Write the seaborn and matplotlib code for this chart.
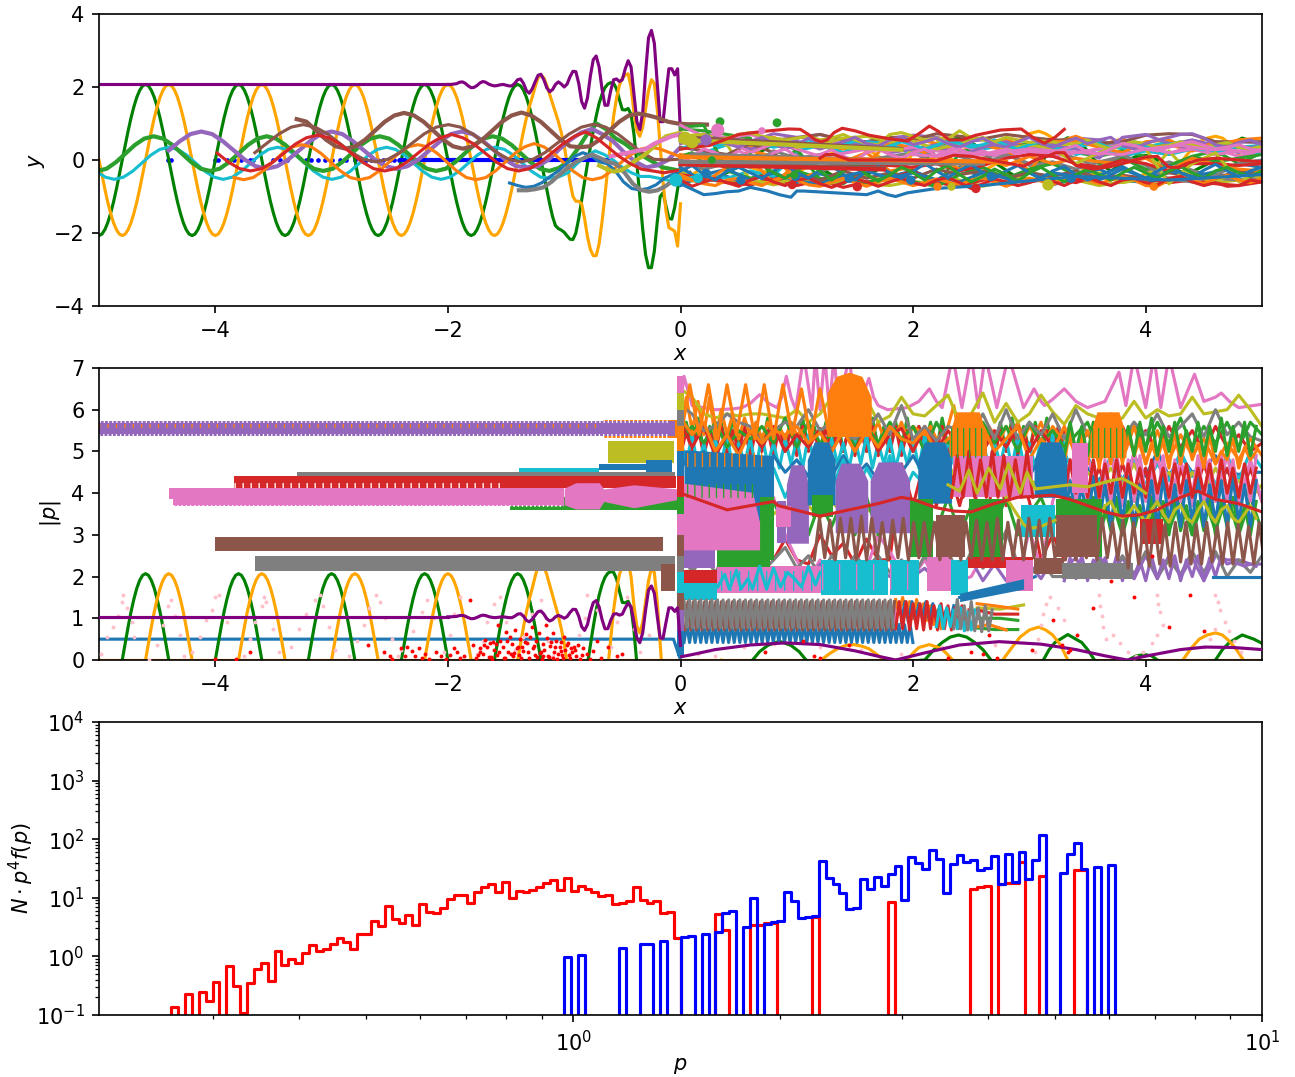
import numpy as np
import seaborn as sns
import matplotlib
matplotlib.use('Agg')
import matplotlib.pyplot as plt

# field components, sampled every 0.025 from x=-5 up to the shock
green_wave = [-2.07,-2.03,-1.91,-1.72,-1.46,-1.15,-.79,-.4,0,.4,.79,1.15,1.46,1.72,1.91,2.03,2.07,2.03,1.91,1.72,1.46,1.15,.79,.4,0,-.4,-.79,-1.15,-1.46,-1.72,-1.91,-2.03,
              -2.07,-2.03,-1.91,-1.72,-1.46,-1.15,-.79,-.4,0,.4,.79,1.15,1.46,1.72,1.91,2.03,2.07,2.03,1.91,1.72,1.46,1.15,.79,.4,0,-.4,-.79,-1.15,-1.46,-1.72,-1.91,-2.03,
              -2.07,-2.03,-1.91,-1.72,-1.46,-1.15,-.79,-.4,0,.4,.79,1.15,1.46,1.72,1.91,2.03,2.07,2.03,1.91,1.72,1.46,1.15,.79,.4,0,-.4,-.79,-1.15,-1.46,-1.72,-1.91,-2.03,
              -2.07,-2.03,-1.91,-1.72,-1.46,-1.15,-.79,-.4,0,.4,.79,1.15,1.46,1.72,1.91,2.03,2.07,2.03,1.91,1.72,1.46,1.15,.79,.4,0,-.4,-.79,-1.15,-1.46,-1.72,-1.91,-2.03,
              -2.07,-2.03,-1.91,-1.72,-1.46,-1.15,-.79,-.4,0,.4,.79,1.15,1.46,1.72,1.91,2.03,2.07,2.03,1.91,1.72,1.46,1.15,.79,.4,0,-.4,-.8,-1.2,-1.55,-1.8,-1.88,-1.92,
              -1.98,-2.08,-2.17,-2.18,-2.0,-1.6,-1.1,-.6,-.1,.35,.8,1.2,1.55,1.8,1.98,2.08,2.12,2.1,1.95,1.65,1.38,1.37,1.41,1.25,.7,-.1,-1.0,-1.9,-2.6,-2.95,-2.95,-2.5,
              -1.7,-1.0,-.9,-1.25,-1.6,-1.62,-1.3,-.8,-.2]
orange_wave = [0,-.4,-.79,-1.15,-1.46,-1.72,-1.91,-2.03,-2.07,-2.03,-1.91,-1.72,-1.46,-1.15,-.79,-.4,0,.4,.79,1.15,1.46,1.72,1.91,2.03,2.07,2.03,1.91,1.72,1.46,1.15,.79,.4,
               0,-.4,-.79,-1.15,-1.46,-1.72,-1.91,-2.03,-2.07,-2.03,-1.91,-1.72,-1.46,-1.15,-.79,-.4,0,.4,.79,1.15,1.46,1.72,1.91,2.03,2.07,2.03,1.91,1.72,1.46,1.15,.79,.4,
               0,-.4,-.79,-1.15,-1.46,-1.72,-1.91,-2.03,-2.07,-2.03,-1.91,-1.72,-1.46,-1.15,-.79,-.4,0,.4,.79,1.15,1.46,1.72,1.91,2.03,2.07,2.03,1.91,1.72,1.46,1.15,.79,.4,
               0,-.4,-.79,-1.15,-1.46,-1.72,-1.91,-2.03,-2.07,-2.03,-1.91,-1.72,-1.46,-1.15,-.79,-.4,0,.4,.79,1.15,1.46,1.72,1.91,2.03,2.07,2.03,1.91,1.72,1.46,1.15,.79,.4,
               0,-.4,-.79,-1.15,-1.46,-1.72,-1.91,-2.03,-2.07,-2.03,-1.91,-1.72,-1.46,-1.15,-.79,-.4,0,.4,.79,1.15,1.46,1.72,2.0,2.25,2.32,2.25,2.05,1.8,1.55,1.3,1.05,.75,
               .4,-.1,-.6,-1.0,-1.13,-1.13,-1.2,-1.6,-2.1,-2.45,-2.62,-2.62,-2.3,-1.7,-1.0,-.2,.5,1.2,1.7,2.05,2.25,2.33,2.36,2.0,1.3,.8,.65,.9,1.4,1.9,2.2,2.1,
               1.4,.4,-.6,-1.4,-1.85,-1.9,-1.95,-2.36,-1.2]
purple_flat_x = [-5,-2]
purple_flat_y = [2.07,2.07]
purple_tail = [2.07,2.07,2.08,2.09,2.13,2.14,2.1,2.03,1.98,1.99,2.04,2.11,2.15,2.13,2.08,2.05,2.03,2.04,2.06,2.07,2.05,2.03,2.03,2.1,2.2,2.22,2.1,1.9,1.83,1.95,2.14,2.32,
               2.35,2.2,1.98,1.87,1.93,2.07,2.14,2.08,2.0,2.08,2.28,2.43,2.42,2.1,1.6,1.42,1.7,2.3,2.75,2.85,2.55,1.95,1.5,1.5,1.9,2.2,2.22,2.15,2.2,2.5,
               2.72,2.55,1.8,1.05,.83,1.3,2.4,3.35,3.55,3.2,2.1,1.05,1.05,1.8,2.5,2.5,2.33,2.5,.7]
purple_mid_x = [0.01,.1,.3,.6,.9,1.2,1.5,1.7,1.85,2.1,2.4,2.74,3.1,3.4,3.65,3.84,4.05,4.3,4.51,4.75,5]
purple_mid_y = [.08,.13,.25,.36,.41,.37,.22,.09,0,.17,.36,.44,.38,.25,.1,0,.12,.25,.31,.3,.25]
green_right_x = [0,.3,.62,.68,.75,.85,.95,1.02,1.08,1.35,1.6,1.85,2.1,2.18,2.25,2.32,2.39,2.46,2.53,2.6,2.67,2.9,3.12,3.17,3.22,3.33,3.45,3.5,3.56,3.7,3.85,3.92,3.99,4.05,4.1,4.35,4.6,4.66,4.72,4.83,4.93,5]
green_right_y = [-.6,-.5,0,.2,.35,.45,.35,.2,0,-.5,-.4,-.05,0,.25,.42,.55,.6,.55,.42,.25,0,-.5,0,.25,.42,.61,.42,.25,0,-.3,0,.1,.13,.1,0,-.4,0,.25,.42,.6,.5,.4]
orange_right_x = [0,.2,.35,.6,.9,1.21,1.28,1.35,1.42,1.49,1.56,1.62,1.68,1.75,1.95,2.0,2.05,2.14,2.24,2.29,2.34,2.55,2.77,2.85,2.92,3.0,3.08,3.14,3.2,3.27,3.33,3.6,3.9,4.32,4.39,4.46,4.53,4.6,4.66,4.72,4.78,4.84,5]
orange_right_y = [-.6,-.2,0,-.2,-.5,0,.15,.27,.35,.37,.33,.27,.15,0,0,.17,.3,.37,.28,.15,0,-.4,0,.3,.55,.72,.79,.72,.6,.35,0,-.5,-.5,0,.28,.5,.6,.65,.6,.45,.25,0,-.3]

# thermal wave modes in the upper panel
cyan_wave = [-.31,-.47,-.53,-.47,-.31,-.09,.13,.29,.35,.29,.13,-.09,-.31,-.47,-.53,-.47,-.31,-.09,.13,.29,.35,.29,.13,-.09,
             -.31,-.47,-.53,-.47,-.31,-.09,.13,.29,.35,.29,.13,-.09,-.31,-.47,-.53,-.47,-.31,-.09,.13,.29,.35,.29,.13,-.09,
             -.31,-.47,-.5,-.46,-.35,-.1,.1,.25,.15,0,-.2,-.35,-.45,-.45,-.5,-.55,-.65,-.6]
tgreen_wave = [-.3,-.24,-.06,.175,.41,.585,.65,.585,.41,.175,-.06,-.24,-.3,-.24,-.06,.175,.41,.585,.65,.585,.41,.175,-.06,-.24,
               -.3,-.24,-.06,.175,.41,.585,.65,.585,.41,.175,-.06,-.24,-.3,-.24,-.06,.175,.41,.585,.65,.585,.41,.175,-.06,-.24,
               -.3,-.22,-.05,.3,.7,1.0,.85,.6,.45,.25,.1,-.05,-.2,-.25,-.3]
tpurple_wave = [.26,.51,.71,.78,.71,.51,.26,.01,-.17,-.24,-.17,.01,.26,.51,.71,.78,.71,.51,.26,.01,-.17,-.24,-.17,.01,
                .26,.51,.71,.78,.71,.51,.26,.01,-.17,-.2,-.17,.01,.3,.55,.75,.85,.7,.5,.2,-.05,-.2,-.15,0,.3]
tred_wave = [.19,-.055,-.235,-.3,-.235,-.055,.19,.435,.61,.68,.61,.435,.19,-.055,-.235,-.3,-.235,-.055,.19,.435,.61,.7,.61,.435,
             .19,-.055,-.235,-.3,-.235,-.055,.2,.45,.65,.77,.6,.35,.1,-.1,-.25,-.3,-.35,-.3,-.25]
torange_wave = [-.48,-.54,-.48,-.3,-.06,.18,.36,.42,.36,.18,-.06,-.3,-.48,-.54,-.48,-.3,-.06,.18,.36,.42,.36,.18,-.06,-.3,
                -.48,-.54,-.48,-.3,-.06,.18,.36,.45,.36,.18,-.06,-.3,-.48,-.54,-.48,-.3,-.06,.15,.3,.35,.3,.2,.1]
brown_wave = [.2,.46,.715,.9,.97,.9,.715,.46,.205,.02,-.05,.02,.205,.46,.715,.9,.97,.9,.715,.46,.205,.02,-.05,.02,
              .205,.46,.715,.9,.98,.9,.715,.46,.205,.02,0,.02]
brown2_wave = [1.12,1.05,.8,.555,.375,.31,.375,.555,.8,1.045,1.22,1.29,1.22,1.045,.8,.555,.375,.31,.375,.555,.8,1.045,1.22,1.3,
               1.22,1.045,.8,.555,.375,.35,.375,.555,.8,1.045,1.22,1.27,1.22,1.15,1.05,1.0,.98,.98,.97]
tblue_wave = [-.63,-.7,-.75,-.72,-.62,-.45,-.3,-.1,.1,.2,.12,-.05,-.1,-.3,-.6,-.78,-.82,-.78,-.68,-.5,-.4,-.3]
gray_wave = [-.83,-.83,-.8,-.75,-.6,-.4,-.22,-.05,.05,.15,.05,-.05,-.12,-.35,-.65,-.82,-.87,-.83,-.72,-.55,-.45,-.35]
olive_wave = [-.15,-.25,-.32,-.28,-.15,0,.12,.3,.5,.65,.7,.75]
pink_wave = [.1,.15,.2,.25,.3,.45,.55,.65,.7]
blue_dots = [-4.41,-4.38,-4.0,-3.98,-3.9,-3.84,-3.78,-3.7,-3.68,-3.5,-3.44,-3.38,-3.22,-3.18,-3.12,-3.06,-3.0,-2.93,-2.88,-2.8,-2.74,-2.7,-2.66,-2.6,-2.56,-2.5,-2.46,-2.42]
blue_run = [-2.4,-.62]

# long runs across the downstream band, y read every 0.2 from x=0
down_colors = ['C4','C8','C9','C0','C1','C5','C2','C7','C6','C3','C9','C1','C8','C2','C4','C5','C0','C7','C6','C1','C3','C8']
down_lines = [
 [.7,.6,.62,.5,.72,.62,.7,.52,.5,.6,.68,.62,.5,.55,.45,.3,.5,.6,.55,.35,.3,.42,.55,.4,.5,.48],
 [-.3,-.5,-.62,-.55,-.68,-.55,-.62,-.5,-.65,-.7,-.58,-.68,-.55,-.72,-.58,-.5,-.62,-.55,-.7,-.6,-.55,-.62,-.5,-.62,-.55,-.6],
 [.1,.2,.42,.5,.35,.48,.42,.2,.35,.4,.2,.35,.1,.3,.42,.45,.2,.35,.48,.3,.35,.5,.3,.2,.35,.4],
 [-.2,-.6,-.45,-.7,-.42,-.62,-.38,-.55,-.62,-.45,-.3,-.55,-.2,-.48,-.62,-.35,-.68,-.5,-.25,-.55,-.62,-.5,-.58,-.4,-.45,-.3],
 [.3,.42,.5,.35,.62,.4,.5,.3,.42,.5,.6,.45,.25,.38,.55,.35,.45,.65,.4,.58,.3,.42,.25,.5,.35,.3],
 [.55,.5,.6,.42,.55,.6,.7,.55,.5,.62,.55,.72,.65,.58,.7,.62,.55,.55,.45,.5,.68,.72,.7,.5,.5,.5],
 [.85,.8,.7,.6,-.6,-.3,-.5,-.65,-.2,.1,-.3,-.72,.2,.4,.3,.45,.3,.2,.1,.25,.1,-.35,.1,.25,-.1,.2],
 [0,-.25,-.1,.1,-.05,.2,-.3,-.15,-.2,.1,.2,-.1,-.3,.05,.2,-.15,-.05,-.25,-.05,.1,-.3,-.05,-.28,-.5,-.55,-.45],
 [.5,.72,.6,.7,.5,.35,.55,.45,.25,.35,.4,.1,.42,.2,.1,.32,.35,.2,.3,.45,.25,.15,.42,.3,.1,.22],
 [-.4,-.5,-.62,-.68,-.5,-.7,-.55,-.75,-.6,-.5,-.3,-.62,-.72,-.55,-.4,-.6,-.5,-.62,-.42,-.6,-.5,-.62,-.55,-.65,-.7,-.6],
 [-.55,-.4,-.5,-.3,-.45,.25,.4,.2,.5,.45,.15,.3,.5,.35,.45,.2,.45,.15,.3,.1,.25,.15,.3,.2,.4,.15],
 [.15,.05,-.1,.25,.1,-.55,-.3,.05,-.1,.5,.3,.1,-.1,.42,.25,-.3,.5,.52,.35,.2,.5,.55,.25,.4,.55,.6],
 [.6,.55,.42,-.55,-.65,-.5,-.7,-.55,-.45,-.6,.4,.6,-.65,-.4,-.7,-.3,-.55,-.5,-.35,-.62,-.5,.25,-.45,-.58,-.3,-.5],
 [.9,.95,-.3,-.5,-.35,.3,-.55,-.4,-.62,-.45,-.6,-.72,-.4,-.2,-.5,-.25,-.1,-.42,-.15,.05,-.25,-.15,.1,-.05,.05,.15],
 [.45,.6,.55,.3,.45,.52,.3,.5,.4,.2,.3,.42,.1,.35,.5,.28,.42,.3,.05,.62,.7,.45,.3,.4,.2,.45],
 [.35,.25,.15,.45,.2,-.4,-.55,-.3,-.5,-.35,-.5,-.25,-.4,-.3,-.5,-.35,-.45,-.3,-.5,-.42,-.5,-.35,-.45,-.5,-.3,-.4],
 [-.7,-.4,-.25,-.55,-.35,-.58,-.65,-.45,-.3,-.5,-.35,-.55,-.6,-.35,-.5,-.6,-.35,-.45,-.55,-.25,-.5,-.3,-.45,-.32,-.1,-.2],
 [.05,.1,-.1,-.2,.25,.05,.15,-.2,0,.1,-.1,.3,.1,-.1,.15,-.1,.25,.05,-.2,.15,-.15,-.52,-.6,-.42,-.1,.0],
 [.95,.65,.55,.2,.45,.3,.1,.18,.3,.25,.35,.25,.18,.15,.3,.2,.1,.2,.3,.42,.35,.2,.3,.15,.25,.35],
 [-.5,-.62,-.2,.05,-.65,-.1,-.2,-.05,.2,-.3,-.2,.1,-.25,.05,-.15,.1,-.1,.05,-.05,-.1,.05,-.3,.05,-.12,-.25,-.3],
 [-.1,-.05,-.2,-.15,-.15,-.25,-.05,-.1,-.15,-.15,-.2,-.1,-.3,-.15,.05,.15,.1,-.1,-.2,0,-.1,-.3,-.1,-.1,-.15,-.1],
 [.65,.7,.5,.45,.55,.35,.42,.6,.65,.5,.52,.3,.45,.62,.3,.42,.3,-.1,.2,.45,.3,-.65,-.1,.2,-.6,-.3],
]
# finer wiggles, y read every 0.1 from x=0
wiggle_colors = ['C9','C8','C1','C4','C6','C3','C0','C2']
wiggle_lines = [
 [.3,.42,.5,.4,.48,.55,.45,.52,.42,.35,.45,.55,.48,.35,.42,.52,.45,.3,.38,.5,.42,.3,.4,.52,.45,.35,.42,.55,.4,.3,.42,.5,.35,.28,.4,.52,.45,.32,.4,.5,.38,.3,.42,.5,.35,.28,.4,.48,.35,.3,.42],
 [.5,.68,.62,.55,.6,.7,.75,.65,.6,.55,.6,.65,.55,.6,.7,.55,.45,.42,.7,.75,.65,.55,.6,.58,.8,.6,.55,.5,.62,.55,.48,.52,.5,.42,.45,.55,.4,.3,.42,.5,.45,.35,.4,.5,.42,.35,.42,.48,.35,.3,.38],
 [-.4,-.55,-.65,-.7,-.55,-.5,-.62,-.7,-.55,-.45,-.55,-.68,-.72,-.6,-.5,-.62,-.72,-.6,-.5,-.6,-.7,-.62,-.52,-.6,-.68,-.55,-.5,-.6,-.72,-.6,-.5,-.58,-.68,-.52,-.45,-.55,-.65,-.55,-.45,-.55,-.7,-.72,-.55,-.45,-.55,-.65,-.5,-.42,-.55,-.62,-.5],
 [.6,.3,.5,.62,.45,.35,.5,.62,.45,.3,.42,.6,.48,.32,.5,.62,.45,.38,.55,.62,.42,.5,.6,.45,.35,.5,.6,.42,.35,.5,.62,.45,.35,.48,.6,.45,.55,.62,.4,.3,.45,.55,.62,.7,.72,.6,.42,.35,.48,.55,.42],
 [-.1,.1,.3,.2,.05,.25,.1,-.05,.2,.3,.1,-.05,.15,.28,.1,-.02,.2,.3,.15,.05,.2,.3,.12,.25,.3,.15,.25,.12,.3,.18,.25,.22,.2,.3,.4,.22,.15,.3,.45,.4,.3,.25,.35,.45,.5,.4,.3,.35,.42,.3,.25],
 [-.55,-.72,-.6,-.5,-.62,-.72,-.55,-.45,-.6,-.7,-.55,-.5,-.65,-.75,-.62,-.5,-.6,-.72,-.6,-.5,-.62,-.7,-.55,-.48,-.62,-.78,-.65,-.52,-.6,-.7,-.62,-.5,-.58,-.7,-.55,-.48,-.6,-.7,-.55,-.5,-.62,-.68,-.5,-.45,-.6,-.7,-.62,-.72,-.7,-.55,-.6],
 [-.3,-.15,-.4,-.55,-.3,-.2,-.35,-.5,-.3,-.12,-.35,-.5,-.28,-.15,-.4,-.55,-.3,-.18,-.35,-.5,-.32,-.1,-.3,-.48,-.28,-.12,-.35,-.5,-.3,-.15,-.35,-.5,-.3,-.18,-.4,-.55,-.42,-.3,-.18,-.35,-.5,-.3,-.15,-.35,-.48,-.28,-.12,-.3,-.45,-.3,-.2],
 [.1,.2,-.1,.1,-.2,-.1,.15,-.1,-.35,-.5,-.3,-.1,-.3,-.55,-.3,-.1,-.4,-.58,-.4,-.2,-.35,-.55,-.3,-.15,-.4,-.6,-.45,-.25,-.4,-.58,-.35,-.2,-.4,-.6,-.4,-.25,-.4,-.55,-.35,-.2,-.35,-.5,-.3,-.18,-.35,-.5,-.3,-.2,-.35,-.45,-.3],
]
straight_x = [[0,1.9],[0,1.9],[0,2.2],[0,1.75],[0,1.75],[0.1,1.7],[0,2.6],[0,2.8]]
straight_y = [[.62,.3],[.55,.28],[.1,-.02],[-.1,-.22],[-.12,-.26],[.15,.0],[-.05,-.1],[.08,-.05]]
straight_colors = ['C5','C8','C1','C5','C3','C7','C7','C1']
red_top_x = [.0,.25,.5,.7,.83,.93,1.03,1.1,1.16,1.21,1.26,1.32,1.39,1.5,1.62,1.8,1.95,2.05,2.14,2.22,2.31,2.42,2.54,2.75,2.93,3.03,3.13,3.22,3.3]
red_top_y = [.3,.4,.7,.78,.82,.85,.84,.7,.55,.5,.55,.75,.87,.8,.68,.58,.52,.72,.93,.78,.55,.55,.68,.82,.85,.62,.46,.62,.84]
red_low_x = [1.2,1.25,1.32,1.45,1.9,2.2,2.35,2.5,2.75,2.95,3.05,3.15,3.23,3.3,3.35,3.4,3.55,3.7,3.85,4.0,4.1,4.2,4.28,4.35,4.45,4.6,4.8,5]
red_low_y = [.05,.15,.15,.0,.0,-.02,.13,.1,-.05,-.17,0,.1,.2,.2,.0,-.15,-.25,-.18,-.05,.08,.1,-.2,-.2,-.1,0,.05,0,-.05]
blue_low_x = [.0,.1,.2,.3,.4,.5,.6,.75,.85,.95,1.0,1.06,1.6,1.7,1.78,1.85,1.95,2.2,2.6,2.9,3.4,4.2,5]
blue_low_y = [-.65,-.8,-.95,-.92,-.87,-.85,-.75,-.85,-.95,-1.02,-.85,-.85,-.95,-.85,-.95,-1.0,-.9,-.78,-.7,-.6,-.45,-.55,-.4]
pink_low_x = [2.0,2.2,2.4,2.7,2.85,3.0,3.35,3.8,4.0,4.3,4.55,4.7,4.85,5]
pink_low_y = [.15,.1,.2,.15,.25,.3,.22,.15,.3,.4,.28,.3,.2,.25]
# round clumps where a particle gyrates in place
clump_x = [.34,.83,.04,.22,.32,.7,-.04,.22,.52,.99,1.45,1.98,2.67,3.36,.27,.98,1.52,2.54,.96,2.33,3.16,2.21,4.07,.1,.15]
clump_y = [1.05,1.02,.6,.55,.82,.8,-.55,-.37,-.55,-.45,-.5,-.55,-.45,-.5,0,-.41,-.73,-.78,-.68,-.73,-.68,-.73,-.73,.5,-.5]
clump_s = [18,18,40,30,40,12,40,22,20,20,20,20,20,20,14,14,20,20,18,16,30,16,16,40,22]
clump_colors = ['C2','C2','C8','C4','C6','C6','C9','C0','C0','C0','C0','C0','C0','C0','C2','C2','C3','C3','C3','C8','C8','C1','C1','C8','C9']

# |p| tracks left of the shock, solid because of gyration
band_colors = ['C1','C4','C8','C0','C0','C9','C7','C3','C2','C6','C6','C6','C5','C7','C5']
band_x = [[-.67,-.03],[-5,-.05],[-.62,-.06],[-.7,-.3],[-.3,-.07],[-1.39,-.7],[-3.3,-.05],[-3.84,-.04],[-1.47,0],[-4.4,-4.36],[-4.36,-1.0],[-1.0,-.9,-.7,-.66,-.4,-.02],[-4.0,-.15],[-3.66,-.05],[-.17,-.05]]
band_low = [[5.32,5.32],[5.38,5.38],[4.72,4.72],[4.55,4.55],[4.4,4.4],[4.4,4.4],[4.12,4.12],[4.12,4.12],[3.59,3.59],[3.85,3.85],[3.7,3.7],[3.72,3.62,3.62,3.8,3.65,3.85],[2.61,2.61],[2.14,2.14],[1.65,1.65]]
band_high = [[5.76,5.76],[5.72,5.72],[5.26,5.26],[4.7,4.7],[4.8,4.8],[4.6,4.6],[4.5,4.5],[4.42,4.42],[3.91,3.91],[4.12,4.12],[4.12,4.12],[4.12,4.25,4.25,4.1,4.2,4.1],[2.95,2.95],[2.49,2.49],[2.3,2.3]]

# thin gaps left in the solid regions by the gyration: x range, y, colour, height and spacing in pixels
slit_x = [[-5,-.1],[-5,-.1],[-5,-.7],[-3.84,-1.5],[.06,.72],[.06,.66],[2.33,2.62],[3.54,3.82],[-4.4,-1.0],[.35,1.2],[1.22,2.05]]
slit_y = [5.72,5.38,5.6,4.19,4.8,4.05,5.2,5.2,3.7,1.9,2.0]
slit_colors = ['white','white','C1','white','C1','C2','C2','C2','white','C9','C6']
slit_height = [3,4,4,5,14,14,30,30,2,20,26]
slit_space = [4.2,4.2,8.4,8,7.4,7.2,6,6,4.2,9,17]

# solid blocks right of the shock
block_colors = ['C4','C3','C9','C6','C2','C0','C2','C6','C4','C4','C0','C2','C4','C4','C1','C1','C1','C6','C0','C0','C2','C2','C2','C5','C5','C9','C3','C3','C9','C9','C9','C6','C6','C5','C7','C0','C6','C6']
block_x = [[.0,.3],[.02,.31],[.02,.31],[.31,1.21],[.31,.77],[.03,.8],[.68,.8],[.0,.62,.68],[.83,.91],[.91,.95,1.06,1.1],[1.09,1.15,1.27,1.33],[1.13,1.31],[1.33,1.38,1.54,1.61],[1.63,1.7,1.9,1.97],[1.26,1.34,1.45,1.56,1.64],[2.31,2.37,2.57,2.63],[3.52,3.58,3.77,3.83],[3.37,3.5],[2.04,2.1,2.27,2.33],[3.04,3.1,3.26,3.32],[1.97,2.17],[2.48,2.77],[3.23,3.62],[2.2,2.45],[3.23,3.58],[2.93,3.22],[3.95,4.15],[2.47,3.03],[1.21,1.78],[1.8,2.05],[2.33,2.47],[2.12,2.33],[2.8,3.03],[3.04,3.3],[3.28,3.89],[2.4,2.95],[2.34,3.03],[.82,.95]]
block_low = [[2.2,2.2],[1.8,1.8],[1.44,1.44],[1.6,1.6],[2.23,2.23],[3.3,3.3],[2.4,2.4],[2.64,2.64,2.64],[2.8,2.8],[2.8,2.8,2.8,2.8],[3.72,3.72,3.72,3.72],[3.43,3.43],[3.05,3.05,3.05,3.05],[3.05,3.05,3.05,3.05],[5.36,5.36,5.36,5.36,5.36],[4.87,4.87,4.87,4.87],[4.85,4.85,4.85,4.85],[4.0,4.0],[3.76,3.76,3.76,3.76],[3.9,3.9,3.9,3.9],[2.47,2.47],[2.47,2.47],[2.47,2.47],[2.47,2.47],[2.47,2.47],[2.95,2.95],[2.77,2.77],[2.2,2.2],[1.56,1.56],[1.56,1.56],[1.56,1.56],[1.65,1.65],[1.65,1.65],[2.05,2.05],[1.93,1.93],[1.4,1.7],[3.9,3.9],[3.2,3.2]]
block_high = [[3.0,3.0],[2.16,2.16],[1.85,1.85],[2.25,2.25],[2.64,2.64],[5.04,4.9],[3.9,3.9],[4.25,4.02,3.3],[3.8,3.8],[4.2,4.68,4.68,4.2],[4.8,5.23,5.23,4.8],[3.95,3.95],[4.3,4.72,4.72,4.3],[4.3,4.75,4.75,4.3],[6.4,6.8,6.9,6.8,6.3],[5.4,5.95,5.95,5.4],[5.4,5.95,5.95,5.4],[5.2,5.2],[4.8,5.23,5.23,4.8],[4.8,5.23,5.23,4.8],[3.85,3.85],[3.85,3.85],[3.85,3.85],[3.48,3.48],[3.48,3.48],[3.72,3.72],[3.37,3.37],[2.47,2.47],[2.4,2.4],[2.4,2.4],[2.4,2.4],[2.47,2.47],[2.4,2.4],[2.45,2.45],[2.33,2.33],[1.6,1.95],[4.9,4.9],[3.7,3.7]]
stack_colors = ['C6','C8','C7','C1','C0','C3','C2','C6','C5','C7','C9','C5','C4','C0']
stack_low = [6.0,5.6,5.2,4.9,4.4,3.9,3.5,3.0,2.5,2.1,1.6,1.1,.7,.1]
stack_high = [6.8,6.4,6.0,5.6,5.0,4.4,3.9,3.5,3.0,2.5,2.1,1.6,1.2,.7]
stack_x = [-.03,.03]

# oscillating |p| lines right of the shock
pink_top_x = [.0,.03,.1,.3,.45,.53,.6,.68,.76,.83,.87,.91,.95,.99,1.06,1.13,1.16,1.2,1.24,1.28,1.32,1.36,1.45,1.5,1.56,1.62,1.66,1.7,1.78,1.95,2.05,2.14,2.2,2.25,2.34,2.42,2.5,2.56,2.62,2.72,2.82,2.95,3.04,3.1,3.13,3.2,3.3,3.4,3.5,3.65,3.77,3.83,3.9,4.0,4.07,4.13,4.2,4.3,4.42,4.5,4.6,4.65,4.72,4.8,5]
pink_top_y = [6.1,6.8,6.1,6.0,6.02,6.05,6.15,6.36,6.15,6.05,6.3,6.8,6.3,6.0,7.3,6.0,7.3,6.0,7.3,6.0,7.3,6.0,7.3,6.05,6.3,6.75,6.3,6.1,6.0,6.05,6.2,6.5,6.2,6.05,7.3,6.05,7.3,6.05,7.3,6.05,7.3,6.05,6.5,6.2,6.1,6.25,6.5,6.2,6.05,6.2,6.9,6.1,7.3,6.05,7.3,6.05,7.3,6.05,6.85,6.2,6.3,6.4,6.2,6.05,6.13]
olive_top_y = [6.5,6.3,5.9,5.8,5.9,5.85,5.9,5.9,5.85,5.8,6.0,5.7,5.9,6.3,5.6,5.9,6.25,5.7,5.85,6.3,5.9,5.85,6.1,6.35,5.7,5.9,6.4,5.7,6.15,5.7,5.9,6.35,5.95,5.65,6.1,5.9,5.8,5.75,5.8,6.2,5.8,6.0,5.85,5.9,6.3,5.9,5.95,6.0,6.35,6.0,5.6]
gray_top_y = [6.1,5.9,5.5,5.6,5.9,5.7,5.6,5.2,5.5,5.7,5.6,6.0,5.5,5.7,5.4,5.3,5.5,5.9,5.4,6.1,5.3,5.6,5.25,5.6,5.5,5.4,5.9,5.3,6.0,5.3,5.7,5.4,5.9,5.3,6.0,5.4,5.2,5.9,5.3,5.7,5.4,5.9,5.35,5.6,5.9,5.35,6.0,5.4,5.7,5.35,5.25]
green_row_y = [5.3,5.6,5.2,5.7,5.1,5.5,5.3,5.6,5.2,5.8,5.1,5.7,5.2,5.4,5.7,5.1,5.6,5.2,5.7,5.3,5.6,5.0,5.7,5.2,5.6,5.1,5.7,5.2,5.6,5.0,5.7,5.2,5.5,5.1,5.4,5.7,5.0,5.6,5.2,5.7,5.1,5.7,5.2,5.8,5.1,5.6,5.2,5.7,5.1,5.7,5.4]
red_row_y = [5.7,5.1,5.6,4.9,5.4,5.0,5.5,5.1,5.6,5.0,5.4,5.1,5.55,5.0,5.5,5.0,5.6,5.0,5.4,5.55,5.0,5.6,5.0,5.5,5.1,5.55,5.0,5.5,5.1,5.6,5.0,5.5,5.1,5.5,5.0,5.45,5.0,5.4,5.6,5.0,5.5,5.0,5.6,5.1,5.5,5.0,5.6,5.1,5.4,5.0,5.2]
orange_row_y = [5.8,5.4,5.7,5.0,5.4,4.9,5.5,5.2,5.5,5.4,5.6,5.2,5.45,5.0,5.5,5.0,5.5,5.1,5.6,5.3,5.2,5.5,5.0,5.3,5.5,5.1,5.6,5.0,5.3,5.6,4.8,5.3,5.0,5.6,4.9,5.5,4.7,5.5,4.8,5.6,4.7,5.5,4.8,5.4,4.9,5.3,4.7,5.2,4.8,5.3,4.9]
blue_row_y = [4.9,4.4,5.0,4.5,4.9,4.4,4.8,4.5,4.9,4.5,4.8,4.4,4.7,4.4,4.9,4.4,4.7,4.3,4.8,4.5,4.9,4.4,4.8,4.5,4.4,4.8,4.3,4.7,4.5,4.9,4.4,4.9,4.5,4.7,4.5,4.6,4.3,4.8,4.3,4.9,4.4,5.0,4.4,4.9,4.5,4.6,4.9,4.5,4.45,4.5,4.5]
cyan_row_y = [4.2,3.9,4.6,4.1,4.9,4.2,4.7,4.1,4.6,3.9,4.5,4.0,4.7,4.1,4.8,4.0,4.6,4.1,4.9,3.9,4.5,4.2,4.6,4.0,4.4,4.0,4.8,4.2,4.7,4.0,4.6,4.9,4.3,5.0,4.3,4.9,4.2,4.9,4.3,4.8,4.2,4.7,4.3,5.0,4.4,4.8,4.2,4.9,4.3,5.0,4.6]
olive_row_y = [3.8,3.4,3.6,3.2,3.4,3.9,3.5,3.9,3.5,3.7,3.3,3.7,3.4,3.8,3.5,3.4,3.6,3.5,3.9,3.3,3.2,4.5,4.3,4.7,4.2,4.8,4.3,4.4,4.7,4.3,4.3,4.2,4.7,4.2,4.15,4.5,4.2,4.6,4.2,4.7,4.1,4.2,4.5,4.0,4.5,4.05,4.6,4.1,4.3,3.9,4.2]
pink_row_y = [4.2,3.0,4.2,3.0,4.1,2.9,4.0,3.2,3.9,3.0,2.4,1.9,2.4,1.9,2.3,1.9,2.2,3.0,2.6,2.1,2.0,2.4,1.9,2.4,1.9,2.0,2.5,3.1,2.3,2.0,3.1,2.2,3.8,4.8,3.7,4.9,3.8,4.9,3.7,5.0,3.8,4.9,3.7,4.8,3.7,5.0,3.8,4.9,3.7,4.8,3.8]
red_row2_y = [3.0,2.6,3.2,2.7,3.3,2.6,2.5,2.9,2.4,2.9,2.4,2.3,3.0,2.5,2.8,2.3,2.9,2.4,2.4,4.7,3.7,4.8,3.7,4.7,3.7,4.8,2.5,4.7,3.7,4.7,3.8,2.4,3.0,2.4,3.0,3.9,4.6,3.8,4.7,3.9,4.6,2.9,3.2,4.6,3.8,4.7,3.9,4.6,3.8,4.6,3.8]
green_low_y = [3.9,3.1,3.8,3.0,3.9,3.1,3.7,3.0,3.8,3.2,4.0,3.0,3.8,3.2,3.9,3.0,3.9,3.0,3.2,3.9,3.0,3.7,3.1,3.9,3.0,3.7,3.0,3.2,3.9,3.0,3.5,3.9,3.2,3.9,3.0,3.9,3.0,3.9,3.0,4.0,3.0,3.8,3.1,3.9,3.0,3.9,3.1,4.0,3.0,3.9,3.1]
gray_low_y = [2.6,2.1,2.5,2.1,2.6,2.0,2.5,2.1,2.4,2.7,2.2,2.5,2.0,2.5,2.1,2.5,2.2,2.5,2.1,2.4,2.0,2.5,2.1,2.6,2.0,2.6,2.2,2.5,3.1,2.3,2.0,2.4,2.0,2.0,2.3,2.0,2.4,2.0,2.5,2.05,2.6,2.0,2.4,2.05,2.6,2.1,2.6,2.0,2.4,2.1,2.5]
purple_low_y = [2.4,2.2,1.9,2.1,1.8,1.7,2.0,1.8,2.0,2.1,2.2,1.9,2.3,2.0,1.9,2.3,2.0,2.2,2.0,2.3,2.0,2.2,1.9,2.2,2.0,2.4,1.9,2.3,1.9,2.4,2.3,1.95,2.4,2.2,2.45,1.95,2.5,2.0,2.45,1.95,2.5,1.95,2.5,2.0,2.45,1.9,2.5,2.4,2.4,2.3,2.3]
# denser spikes, y read every 0.05 from x=0 (fine_upper) and from x=3.3 (fine_right)
fine_upper_colors = ['C2','C3','C9','C1']
fine_upper = [
 [5.0,5.7,5.1,5.8,5.0,5.6,5.1,5.7,5.0,5.8,5.1,5.6,5.0,5.7,5.1,5.8,5.0,5.6,5.1,5.7,5.0,5.8,5.1,5.6,5.0,5.7,5.1,5.8,5.0,5.6,5.1,5.7,5.0,5.8,5.1,5.6,5.0,5.7,5.1,5.8,5.0,5.6,5.1,5.7,5.0,5.8,5.1,5.6,5.0,5.7,5.1,5.8,5.0,5.6,5.1,5.7,5.0,5.8,5.1,5.6,5.0,5.7,5.1,5.8,5.0,5.6,5.1],
 [4.9,5.5,5.0,5.6,4.9,5.5,5.0,5.6,4.9,5.5,5.0,5.6,4.9,5.5,5.0,5.5,4.9,5.6,5.0,5.5,4.9,5.6,5.0,5.5,4.9,5.6,5.0,5.5,5.0,5.6,4.9,5.5,5.0,5.6,4.9,5.5,5.0,5.6,4.9,5.5,5.0,5.6,4.9,5.5,5.0,5.6,4.9,5.5,5.0,5.6,4.9,5.5,5.0,5.6,4.9,5.5,5.0,5.6,4.9,5.5,5.0,5.6,4.9,5.5,5.0,5.6,4.9],
 [5.3,4.7,5.4,4.6,5.2,4.6,5.3,4.7,5.4,4.6,5.2,4.7,5.3,4.6,5.4,4.7,5.2,4.6,5.3,4.7,5.3,4.6,5.4,4.7,5.2,4.6,5.3,4.7,5.2,4.6,5.3,4.7,5.4,4.6,5.2,4.7,5.3,4.6,5.2,4.7,5.3,4.6,5.4,4.7,5.2,4.6,5.3,4.7,5.4,4.6,5.2,4.7,5.3,4.6,5.2,4.7,5.3,4.6,5.4,4.7,5.2,4.6,5.3,4.7,5.4,4.6,5.2],
 [5.4,6.3,5.5,6.2,5.4,6.3,5.3,6.0,5.4,5.9,5.3,5.8,5.4,5.7,5.3,5.7,5.4,5.6,5.3,5.7,5.4,5.5,5.6,5.4,5.5,5.6,5.4,5.5,5.7,5.4,5.6,5.3,5.6,5.4,5.7,5.3,5.6,5.4,5.7,5.3,5.6,5.5,5.4,5.6,5.3,5.4,5.6,6.1,5.3,5.6,5.4,5.7,5.3,5.6,5.4,5.3,5.6,5.4,5.7,5.3,5.6,5.4,5.7,5.3,5.6,5.4,5.3],
]
fine_right_colors = ['C2','C6','C0','C1','C3','C2','C8','C4']
fine_right = [
 [3.1,3.9,3.0,3.8,3.1,3.9,3.0,3.7,3.1,3.9,3.0,3.8,3.1,3.7,3.0,3.9,3.1,3.8,3.0,3.9,3.1,3.7,3.0,3.8,3.1,3.9,3.0,3.8,3.2,3.9,3.1,3.7,3.0,3.8],
 [3.8,4.8,3.9,4.9,3.8,4.7,3.9,4.8,3.8,5.0,3.9,4.8,3.8,4.9,3.9,4.7,3.8,4.9,3.9,4.8,3.8,4.7,3.9,4.9,3.8,4.8,3.9,5.0,3.8,4.8,3.9,4.7,3.8,4.9],
 [3.2,4.3,3.3,4.2,3.2,4.4,3.3,4.2,3.2,4.3,3.3,4.4,3.2,4.2,3.3,4.3,3.2,4.4,3.3,4.2,3.2,4.3,3.3,4.4,3.2,4.2,3.3,4.3,3.2,4.4,3.3,4.2,3.2,4.3],
 [4.7,5.6,4.6,5.5,4.7,5.7,4.6,5.5,4.7,5.6,4.7,5.5,4.9,5.3,4.7,5.2,4.8,5.3,4.6,5.5,4.7,5.4,4.8,5.2,4.6,5.4,4.7,5.0,4.8,5.3,4.6,5.1,4.8,5.0],
 [3.9,4.8,4.0,4.7,3.9,4.8,3.9,4.7,4.0,4.8,3.9,4.7,4.0,4.6,3.9,4.8,4.0,4.6,3.9,4.7,4.0,4.7,3.9,4.6,4.0,4.7,3.9,4.8,4.0,4.6,3.9,4.7,4.0,4.6],
 [4.9,5.7,5.0,5.6,4.9,5.7,5.0,5.5,4.9,5.7,5.0,5.6,4.9,5.7,5.0,5.8,4.9,5.6,5.0,5.7,4.9,5.5,5.0,5.7,4.9,5.6,5.0,5.8,4.9,5.6,5.0,5.7,4.9,5.6],
 [3.4,3.7,3.5,3.8,3.5,3.6,3.4,3.7,3.8,3.5,3.4,3.5,3.7,3.5,3.3,3.6,3.8,3.5,3.3,3.6,3.7,3.4,3.3,3.6,3.8,3.5,3.3,3.6,3.7,3.4,3.3,3.5,3.7,3.4],
 [1.9,2.45,1.95,2.5,1.9,2.4,1.95,2.45,2.0,2.5,1.9,2.45,1.95,2.4,1.9,2.5,1.95,2.4,1.95,2.5,1.9,2.4,2.0,2.5,1.9,2.45,2.0,2.5,2.3,2.35,2.3,2.25,2.3,2.25],
]
red_zig_x = [2.33,2.38,2.43,2.48,2.53,2.58,2.63,2.68,2.73,2.78,2.83,2.88,2.93,2.98,3.03]
red_zig_y = [3.9,4.9,3.9,5.0,3.9,4.8,3.9,5.0,3.9,4.9,3.9,4.8,3.9,5.0,3.9]
olive_line_x = [2.3,2.4,2.48,2.55,2.65,2.75,2.82,2.92,2.98,3.05,3.35,3.5,3.7,3.8,3.9,4.0]
olive_line_y = [4.2,4.05,4.55,4.0,4.6,4.1,4.7,4.0,4.5,4.1,4.2,4.15,4.3,4.35,4.2,4.0]
olive_lower_x = [2.8,2.88,2.95,3.0,3.1,3.18,3.22]
olive_lower_y = [3.9,3.55,3.25,3.15,3.2,3.3,3.35]
cyan_over_x = [.32,.38,.42,.48,.52,.58,.62,.68,.74,.8,.86,.92,.98,1.04,1.1,1.16,1.2]
cyan_over_y = [1.75,2.05,1.7,2.15,1.7,1.95,1.7,2.25,1.7,2.2,1.75,2.1,1.95,1.75,2.25,1.8,2.1]
red_wave_x = [0,.4,.8,.84,1.2,1.7,1.9,2.0,2.1,2.2,2.35,2.5,2.7,2.9,3.2,3.35,3.5,3.65,3.8,3.95,4.1,4.2,4.3,4.45,4.6,4.8,5]
red_wave_y = [4.0,3.6,3.8,3.7,3.45,3.75,3.9,3.85,3.75,3.65,3.57,3.55,3.75,3.9,3.95,3.85,3.7,3.55,3.45,3.48,3.6,3.75,3.9,4.05,3.85,3.75,3.55]
brown_zig_y = [2.4,3.4,2.45,3.35,2.4,3.4,2.45,3.4,2.4,3.45,2.4,3.4,2.45,3.3,2.4,3.35,2.45,3.4,2.4,3.3,2.45,3.3,2.5,3.3,2.4,3.35,2.45,3.4,2.4,3.3,
               2.45,3.35,2.4,3.3,2.4,3.4,2.4,3.3,2.45,3.35,2.4,3.4,2.45,3.35,2.4,3.4,2.45,3.3,2.4,3.35,2.4,3.4,2.45,3.35,2.4,3.4,2.45,3.3,2.4,3.35,
               2.2,3.3,2.3,3.3,2.25,3.35,2.3,3.25,2.25,3.3,2.35,3.3,2.3,3.25,2.3,3.3,2.35,3.2,2.3,3.3,2.3,3.25,2.35,3.2,2.3,3.3,2.35,3.25,2.3,3.2]
orange_zig_y = [5.3,6.6,5.4,6.6,5.3,6.6,5.4,6.6,5.3,6.6,5.3,6.6,5.4,6.5,5.3,6.5,5.4,6.4]
low_zig_gray = [1.44,.78,1.44,.78,1.44,.78,1.44,.78,1.44,.78,1.44,.78,1.44,.78,1.44,.78,1.44,.78,1.44,.78,1.44,.78,1.44,.78,1.44,.78,1.44,.78,1.44,.78,1.44,.78,1.44,.78,1.44,.78,1.44,.78,1.44,.78,
                1.44,.78,1.44,.78,1.44,.78,1.44,.78,1.44,.78,1.44,.78,1.44,.78,1.44,.78,1.44,.78,1.44,.78,1.44,.78,1.44,.78,1.44,.78,1.44,.78,1.44,.78,1.44,.78,1.44,.78,1.44,.78]
low_zig_brown = [.72,1.4,.72,1.4,.72,1.4,.72,1.4,.72,1.4,.72,1.4,.72,1.4,.72,1.4,.72,1.4,.72,1.4,.72,1.4,.72,1.4,.72,1.4,.72,1.4,.72,1.4,.72,1.4,.72,1.4,.72,1.4,.72,1.4,.72,1.4,
                 .72,1.4,.72,1.4,.72,1.4,.72,1.4,.72,1.4,.72,1.4,.72,1.4,.72,1.4,.72,1.4,.72,1.4,.72,1.4,.72,1.4,.72,1.4,.72,1.4,.72,1.4,.72,1.4,.72,1.4,.72,1.4]
low_zig_blue = [.42,.85,.42,.85,.42,.85,.42,.85,.42,.85,.42,.85,.42,.85,.42,.85,.42,.85,.42,.85,.42,.85,.42,.85,.42,.85,.42,.85,.42,.85,.42,.85,.42,.85,.42,.85,.42,.85,.42,.85,
                .42,.85,.42,.85,.42,.85,.42,.85,.42,.85,.42,.85,.42,.85,.42,.85,.42,.85,.42,.85,.42,.85,.42,.85,.42,.85,.42,.85,.42,.85,.42,.85,.42,.85,.42,.85,.42,.85,.42,.85,.42,.85,.42]
pink_fill_x = [.1,1.85]
pink_fill_low = [.8,.8]
pink_fill_high = [1.3,1.3]
red_end_y = [.75,1.4,.75,1.4,.72,1.35,.75,1.35,.72,1.4,.75,1.3,.72,1.35,.75,1.3,.72,1.25,.75,1.3,.72,1.2]
blue_end_y = [.9,1.4,.9,1.4,.95,1.35,1.0,1.4,.95,1.35,1.0,1.3,1.0,1.25,.95,1.3]
cyan_end_y = [.8,1.3,.75,1.25,.8,1.2,.75,1.25,.7,1.15,.72,1.2]
gray_end_y = [.75,1.45,.75,1.3,.72,1.4,.7,1.25,.68,1.3,.7,1.2]
orange_end_y = [1.45,1.1,1.5,1.05,1.4,1.0,1.45,1.1,1.35,.95,1.3,.85,1.2,.75,.9]
tails_x = [[2.55,2.75,2.95],[2.55,2.7,2.9],[2.55,2.75,2.9],[2.5,2.7,2.9],[2.45,2.65,2.8],[2.55,2.7,2.9],[2.4,2.8,3.05]]
tails_y = [[1.25,1.22,1.32],[1.2,1.1,1.1],[1.0,1.0,.95],[.78,.73,.73],[.75,.85,.72],[1.35,1.3,1.22],[1.5,1.7,2.0]]
tails_colors = ['C8','C3','C2','C2','C1','C1','C0']
flat_blue_x = [4.58,5]
flat_blue_y = [2,2]

# scattered low-energy tracers
pink_dots_x = [-4.98,-4.93,-4.88,-4.84,-4.8,-4.79,-4.76,-4.72,-4.7,-4.57,-4.5,-4.45,-4.41,-4.38,-4.35,-4.3,-4.27,-4.2,-4.13,-4.08,-4.03,-4.0,-3.97,-3.9,-3.75,-3.7,-3.66,-3.6,-3.58,-3.56,-3.5,-3.45,-3.35,-3.28,-3.22,-3.14,-3.1,-3.07,-3.02,-2.97,-2.85,-2.78,-2.72,-2.68,-2.62,-2.58,-2.54,-2.48,-2.43,-2.4,-2.3,-2.22,-2.18,-2.12,-2.03,-1.98,-1.95,-1.9,-1.75,-1.7,-1.66,-1.6,-1.55,-1.5,-1.42,-1.35,-1.28,-1.2,-1.16,-1.14,-1.1,-.95,-.87,-.82,-.8,-.72,-.6,-.55,-.46,-.4,-.35,-.27]
pink_dots_y = [.15,.55,.8,1.05,1.4,1.55,1.25,.9,.55,0,.35,.85,1.3,1.45,1.05,.6,.1,.2,.55,.95,1.2,1.5,1.55,.9,.1,.5,.9,1.3,1.5,1.4,.75,.2,.3,.75,1.1,1.45,1.55,1.3,.8,.25,.1,.45,.85,1.25,1.55,1.4,1.0,.5,.1,.25,.7,1.15,1.45,1.0,.2,.6,1.1,1.5,.15,.45,.9,1.35,1.5,.9,.25,.55,1.1,1.45,1.0,.45,.1,.15,.6,1.0,1.55,1.2,.3,.9,1.5,.75,.2,.6]
pink_right_x = [.15,.3,.55,.8,1.2,1.55,1.9,2.25,2.7,3.05,3.07,3.1,3.12,3.14,3.18,3.25,3.3,3.6,3.61,3.62,3.63,3.66,3.72,3.78,3.85,3.9,4.1,4.11,4.12,4.15,4.1,4.05,3.98,3.92,4.6,4.62,4.64,4.68,4.72,4.76,4.82,4.6,4.55,4.5]
pink_right_y = [.15,.1,.3,.38,.3,.25,.15,.3,.35,.2,.5,.85,1.1,1.35,1.5,1.25,.95,1.55,1.3,1.05,.8,.5,.6,.4,.2,.05,1.55,1.35,1.15,.85,.6,.4,.2,.1,1.55,1.4,1.2,.9,.7,.45,.2,.75,.5,.3]
red_dots_x = [-4.0,-3.82,-3.7,-2.69,-2.55,-2.5,-2.48,-2.4,-2.37,-2.35,-2.31,-2.28,-2.25,-2.22,-2.2,-2.16,-2.1,-2.06,-2.02,-1.98,-1.95,-1.92,-1.9,-1.86,-1.81,-1.78,-1.76,-1.72,-1.7,-1.68,-1.66,-1.64,-1.62,-1.6,-1.58,-1.57,-1.55,-1.53,-1.52,-1.5,-1.48,-1.47,-1.45,-1.44,-1.42,-1.4,-1.38,-1.37,-1.35,-1.33,-1.32,-1.3,-1.28,-1.27,-1.25,-1.24,-1.22,-1.2,-1.19,-1.18,-1.16,-1.15,-1.13,-1.12,-1.1,-1.09,-1.07,-1.06,-1.04,-1.02,-1.0,-.99,-.97,-.95,-.93,-.92,-.9,-.88,-.86,-.84,-.8,-.78,-.75,-.72,-.68,-.62,-.55,-.5,
              -1.74,-1.69,-1.65,-1.61,-1.56,-1.51,-1.46,-1.41,-1.39,-1.34,-1.31,-1.26,-1.23,-1.21,-1.17,-1.14,-1.11,-1.08,-1.05,-1.03,-1.01,-.98,-.96,-.94,-1.59,-1.49,-1.43,-1.36,-1.29,-1.18,-1.1,-1.03,-.91,-.85,-1.72,-1.63]
red_dots_y = [.03,.03,.2,.36,.18,.1,.03,.28,.1,.32,.22,.1,.28,.05,.14,.02,.18,.1,.03,.12,.28,.2,.05,.1,1.45,.35,.05,.28,.15,.48,.3,.4,.02,.23,.12,.85,.45,.3,.05,.68,.2,.55,.38,.1,.72,.3,.5,.05,.22,.62,.4,.05,.78,.28,.12,.45,.65,.2,.02,.38,.85,.52,.08,.33,.65,.2,.45,.02,.3,.12,.55,.24,.4,.05,.18,.3,.1,.35,.02,.28,.15,.02,.22,.45,.05,.3,.1,.15,
              .12,.35,.08,.42,.2,.05,.15,.28,.12,.42,.2,.33,.08,.16,.25,.1,.42,.32,.14,.22,.05,.35,.12,.28,.38,.45,.17,.3,.55,.1,.05,.42,.25,.12,.18,.08]
red_right_x = [.73,1.05,1.15,1.2,1.45,2.3,2.5,2.6,2.65,2.72,3.02,3.2,3.28,3.33,3.35,3.41,3.55,3.7,3.9,4.05,4.38,4.2,4.5]
red_right_y = [.2,.45,.1,.05,.35,.05,.2,.15,.6,.05,.25,.95,.35,.2,.25,.6,1.25,1.9,1.5,2.5,1.55,.8,.7]

# momentum spectrum, 0.01 decade bins
edge_start = -0.59334
bin_width = 0.01
red_counts = [0,.139,0,.225,0,.25,.17,.36,0,.69,.316,.107,.347,.6,.76,.385,1.25,.71,.9,.78,1.15,1.55,1.25,1.33,1.6,2.1,1.73,1.33,2.37,2.45,3.95,
              3.3,7.2,4.3,3.7,5.0,3.4,7.8,5.7,5.5,6.8,9.6,11.1,11.1,8.0,12.6,15.5,17,12.6,18.4,9.8,13.2,12.4,13.6,15.1,18.2,20,13.5,22,12.9,15.9,
              14.3,12.6,10.7,11.3,7.9,8.3,8.7,15,9.3,8.3,8.7,5.5,5.7,2.03,
              0,0,0,0,0,5.26,2.81,0,0,0,3.37,3.5,3.65,3.75,0,0,0,0,0,4.74,0,0,0,0,0,0,0,0,0,0,8.55,0,0,0,0,0,0,0,0,0,0,0,
              14.4,15,16,0,17.1,18.2,18.2,41,0,0,23.4,0,0,0,0,29.6,30.4,0]
blue_start = 57
blue_counts = [0,.96,0,1.05,0,0,0,0,0,1.41,0,0,1.6,1.66,0,1.82,0,0,2.11,2.19,0,2.4,0,2.63,5.55,5.93,0,3.12,10,0,3.6,3.8,4.0,12.6,8.9,4.6,4.75,4.93,42.7,22.2,17.5,
               12.2,6.4,6.76,20.8,14.4,22.8,16,25.3,35,9.1,48.8,39.8,31.6,66.7,45.6,12.2,37.5,53,41,43.9,30.4,32.4,51,17.5,55.5,18.7,60.8,20.8,45,117,
               0,0,27,55.5,87.7,30.8,0,33.7,0,37,0]


def draw(ax, xs, ys, color, lw=1.5, z=2):
    sns.lineplot(x=xs, y=ys, ax=ax, color=color, linewidth=lw, estimator=None, sort=False, legend=False, zorder=z)


def on_grid(start, step, ys):
    return start + step * np.arange(len(ys))


def slits(ax, xs, y, color, height_px, space_px, z):
    # a dashed line thick enough that each dash reads as one narrow vertical gap
    lw_pt = height_px * 72 / 150
    on = 1.3 / height_px
    off = (space_px - 1.3) / height_px
    sns.lineplot(x=xs, y=[y, y], ax=ax, color=color, linewidth=lw_pt, linestyle=(0, (on, off)),
                 estimator=None, sort=False, legend=False, zorder=z)


fig = plt.figure(figsize=(1295 / 150, 1077 / 150), dpi=150)
W, H = 1295.0, 1077.0
ax1 = fig.add_axes([99 / W, 1 - 306 / H, 1163 / W, 292 / H])
ax2 = fig.add_axes([99 / W, 1 - 660 / H, 1163 / W, 292 / H])
ax3 = fig.add_axes([99 / W, 1 - 1015 / H, 1163 / W, 293 / H])

wave_x = on_grid(-5, 0.025, green_wave)
orange_x = on_grid(-5, 0.025, orange_wave)
purple_tail_x = on_grid(-2, 0.025, purple_tail)

# top panel
draw(ax1, wave_x, green_wave, 'green')
draw(ax1, orange_x, orange_wave, 'orange')
draw(ax1, purple_flat_x, purple_flat_y, 'purple')
draw(ax1, purple_tail_x, purple_tail, 'purple')
draw(ax1, green_right_x, green_right_y, 'green')
draw(ax1, orange_right_x, orange_right_y, 'orange')
sns.scatterplot(x=blue_dots, y=[0] * len(blue_dots), ax=ax1, color='blue', s=5, linewidth=0, legend=False)
draw(ax1, blue_run, [0, 0], 'blue', lw=2)
draw(ax1, on_grid(-5.024, .078, cyan_wave), cyan_wave, 'C9')
draw(ax1, on_grid(-5.016, .081, tgreen_wave), tgreen_wave, 'C2', lw=2)
draw(ax1, on_grid(-4.4, .0933, tpurple_wave), tpurple_wave, 'C4', lw=2)
draw(ax1, on_grid(-3.84, .0833, torange_wave), torange_wave, 'C1')
draw(ax1, on_grid(-3.66, .104, brown_wave), brown_wave, 'C5')
draw(ax1, on_grid(-3.3, .084, brown2_wave), brown2_wave, 'C5', lw=2)
draw(ax1, on_grid(-1.47, .07, tblue_wave), tblue_wave, 'C0')
draw(ax1, on_grid(-1.39, .07, gray_wave), gray_wave, 'C7', lw=2)
draw(ax1, on_grid(-.7, .064, olive_wave), olive_wave, 'C8', lw=2)
draw(ax1, on_grid(-.6, .075, pink_wave), pink_wave, 'C6', lw=2)
draw(ax1, on_grid(-3.984, .096, tred_wave), tred_wave, 'C3')
for ys, c in zip(down_lines, down_colors):
    draw(ax1, on_grid(0, .2, ys), ys, c)
for ys, c in zip(wiggle_lines, wiggle_colors):
    draw(ax1, on_grid(0, .1, ys), ys, c)
for xs, ys, c in zip(straight_x, straight_y, straight_colors):
    draw(ax1, xs, ys, c, lw=2)
draw(ax1, blue_low_x, blue_low_y, 'C0')
draw(ax1, pink_low_x, pink_low_y, 'C6')
draw(ax1, red_low_x, red_low_y, 'C3')
draw(ax1, red_top_x, red_top_y, 'C3')
sns.scatterplot(x=clump_x, y=clump_y, ax=ax1, hue=clump_colors, palette={c: c for c in set(clump_colors)},
                size=clump_s, sizes=(min(clump_s), max(clump_s)), linewidth=0, legend=False, zorder=2.5)
ax1.set_xlim(-5, 5)
ax1.set_ylim(-4, 4)
ax1.set_xticks([-4, -2, 0, 2, 4])
ax1.set_yticks([-4, -2, 0, 2, 4])
ax1.set_xlabel('$x$', labelpad=1.6)
ax1.set_ylabel('$y$', labelpad=3)

# middle panel
draw(ax2, [-5, -.06, 0], [.5, .5, 0], 'C0')
draw(ax2, [-5, 5], [0, 0], 'C1')
draw(ax2, wave_x, green_wave, 'green')
draw(ax2, orange_x, orange_wave, 'orange')
draw(ax2, green_right_x, green_right_y, 'green')
draw(ax2, orange_right_x, orange_right_y, 'orange')
for xs, lo, hi, c in zip(band_x, band_low, band_high, band_colors):
    ax2.fill_between(xs, lo, hi, color=c, linewidth=0, zorder=2.2)
for xs, y, c, h, sp in zip(slit_x, slit_y, slit_colors, slit_height, slit_space):
    slits(ax2, xs, y, c, h, sp, 2.45)
draw(ax2, pink_top_x, pink_top_y, 'C6')
for ys, c in zip(fine_upper, fine_upper_colors):
    draw(ax2, on_grid(0, .05, ys), ys, c)
for ys, c in zip([olive_top_y, green_row_y, red_row_y, gray_top_y], ['C8', 'C2', 'C3', 'C7']):
    draw(ax2, on_grid(0, .1, ys), ys, c)
for ys, c in zip([blue_row_y, cyan_row_y, orange_row_y, red_row2_y, olive_row_y, pink_row_y, green_low_y, purple_low_y, gray_low_y],
                 ['C0', 'C9', 'C1', 'C3', 'C8', 'C6', 'C2', 'C4', 'C7']):
    draw(ax2, on_grid(0, .1, ys), ys, c)
for ys, c in zip(fine_right, fine_right_colors):
    draw(ax2, on_grid(3.3, .05, ys), ys, c)
for xs, lo, hi, c in zip(block_x, block_low, block_high, block_colors):
    ax2.fill_between(xs, lo, hi, color=c, linewidth=0, zorder=2.3)
draw(ax2, red_zig_x, red_zig_y, 'C3', z=2.4)
draw(ax2, olive_line_x, olive_line_y, 'C8', z=2.4)
draw(ax2, olive_lower_x, olive_lower_y, 'C8', z=2.4)
draw(ax2, on_grid(.0, .08, orange_zig_y), orange_zig_y, 'C1', z=2.4)
draw(ax2, on_grid(1.15, .045, brown_zig_y), brown_zig_y, 'C5', z=2.4)
draw(ax2, red_wave_x, red_wave_y, 'C3', z=2.5)
draw(ax2, cyan_over_x, cyan_over_y, 'C9', z=2.5)
ax2.fill_between(pink_fill_x, pink_fill_low, pink_fill_high, color='C6', linewidth=0, zorder=2.3)
draw(ax2, on_grid(.03, .024, low_zig_blue), low_zig_blue, 'C0', z=2.35)
draw(ax2, on_grid(.04, .024, low_zig_brown), low_zig_brown, 'C5', z=2.4)
draw(ax2, on_grid(.03, .024, low_zig_gray), low_zig_gray, 'C7', z=2.42)
draw(ax2, on_grid(1.85, .03, orange_end_y), orange_end_y, 'C1', z=2.3)
draw(ax2, on_grid(1.9, .03, blue_end_y), blue_end_y, 'C0', z=2.35)
draw(ax2, on_grid(1.85, .03, red_end_y), red_end_y, 'C3', z=2.4)
draw(ax2, on_grid(2.2, .03, cyan_end_y), cyan_end_y, 'C9', z=2.42)
draw(ax2, on_grid(2.35, .03, gray_end_y), gray_end_y, 'C7', z=2.44)
for xs, ys, c in zip(tails_x, tails_y, tails_colors):
    draw(ax2, xs, ys, c)
draw(ax2, flat_blue_x, flat_blue_y, 'C0')
for lo, hi, c in zip(stack_low, stack_high, stack_colors):
    ax2.fill_between(stack_x, lo, hi, color=c, linewidth=0, zorder=2.5)
sns.scatterplot(x=pink_dots_x, y=pink_dots_y, ax=ax2, color='pink', s=3.5, linewidth=0, legend=False, zorder=2.6)
sns.scatterplot(x=pink_right_x, y=pink_right_y, ax=ax2, color='pink', s=3.5, linewidth=0, legend=False, zorder=2.6)
draw(ax2, purple_flat_x, np.array(purple_flat_y) / 2, 'purple', z=2.7)
draw(ax2, purple_tail_x, np.array(purple_tail) / 2, 'purple', z=2.7)
draw(ax2, purple_mid_x, purple_mid_y, 'purple', z=2.7)
sns.scatterplot(x=red_dots_x, y=red_dots_y, ax=ax2, color='red', s=3.5, linewidth=0, legend=False, zorder=2.8)
sns.scatterplot(x=red_right_x, y=red_right_y, ax=ax2, color='red', s=3.5, linewidth=0, legend=False, zorder=2.8)
ax2.set_xlim(-5, 5)
ax2.set_ylim(0, 7)
ax2.set_xticks([-4, -2, 0, 2, 4])
ax2.set_xlabel('$x$', labelpad=1.6)
ax2.set_ylabel('$|p|$')

# bottom panel
red_edges = 10 ** (edge_start + bin_width * np.arange(len(red_counts)))
blue_edges = 10 ** (edge_start + bin_width * (blue_start + np.arange(len(blue_counts))))
sns.lineplot(x=red_edges, y=red_counts, ax=ax3, color='red', linewidth=1.5, estimator=None, sort=False, drawstyle='steps-post')
sns.lineplot(x=blue_edges, y=blue_counts, ax=ax3, color='blue', linewidth=1.5, estimator=None, sort=False, drawstyle='steps-post')
ax3.set_xscale('log')
ax3.set_yscale('log')
ax3.set_xlim(.205, 10)
ax3.set_ylim(.1, 1e4)
ax3.set_xlabel('$p$', labelpad=.6)
ax3.set_ylabel(r'$N \cdot p^4 f(p)$', labelpad=0)

plt.savefig('out.png', dpi=150)
